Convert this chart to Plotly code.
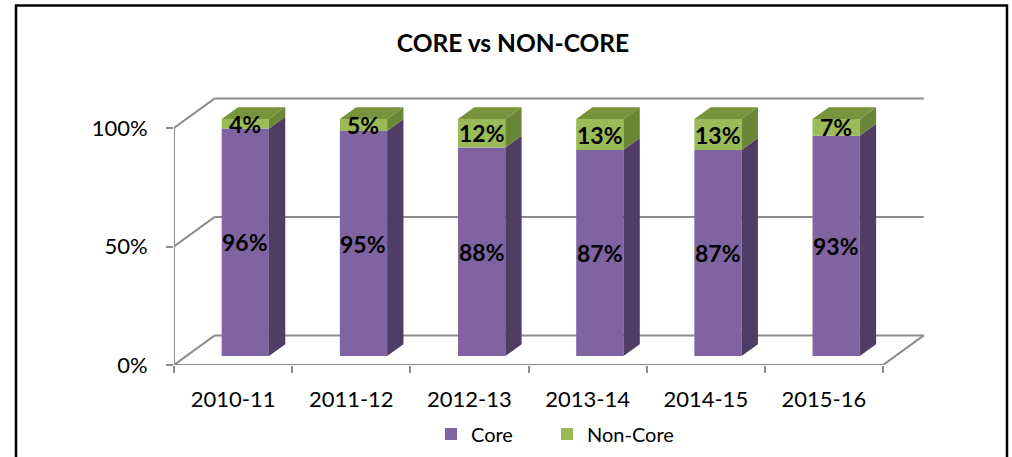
import plotly.graph_objects as go

categories = ["2010-11", "2011-12", "2012-13", "2013-14", "2014-15", "2015-16"]
core = [96, 95, 88, 87, 87, 93]
non_core = [4, 5, 12, 13, 13, 7]
y_ticks = [0, 50, 100]
y_ticktext = ["0%", "50%", "100%"]

# style / projection constants
W, H = 1012, 457
FONT = "Lato"
PURPLE, PURPLE_SIDE = "#8064A2", "#4F3D66"
GREEN, GREEN_SIDE, GREEN_TOP = "#9BBB59", "#6A8637", "#77933C"
GRID = "#8C8C8C"
DX, DY = 0.345, 12.5          # full depth offset in data units
F0, F1 = 0.30, 0.70           # bar front/back depth fractions
BW = 0.40                     # bar width (category units)

PX_X = 118.17                 # px per category
PX_Y = 2.37                   # px per percent
ML, MR, MT, MB = 174, 82, 95, 92
plot_w = W - ML - MR
plot_h = H - MT - MB
x_range = [-0.5, -0.5 + plot_w / PX_X]
y_range = [0, plot_h / PX_Y]

n = len(categories)
xc = list(range(n))
fx = [x + F0 * DX for x in xc]          # front face centers
fb = F0 * DY                            # front face base
dDx, dDy = (F1 - F0) * DX, (F1 - F0) * DY

fig = go.Figure()

# front faces as bars
core_base = [fb] * n
nc_base = [fb + c for c in core]
fig.add_trace(go.Bar(x=fx, y=core, base=core_base, width=BW, name="Core", legend="legend",
                     marker=dict(color=PURPLE, line=dict(width=0)), hoverinfo="skip"))
fig.add_trace(go.Bar(x=fx, y=non_core, base=nc_base, width=BW, name="Non-Core", legend="legend2",
                     marker=dict(color=GREEN, line=dict(width=0)), hoverinfo="skip"))


def side_poly(bases, vals):
    xs, ys = [], []
    for x, b, v in zip(fx, bases, vals):
        xr = x + BW / 2
        t = b + v
        xs += [xr, xr + dDx, xr + dDx, xr, xr, None]
        ys += [b, b + dDy, t + dDy, t, b, None]
    return xs, ys


for bases, vals, col in [(core_base, core, PURPLE_SIDE), (nc_base, non_core, GREEN_SIDE)]:
    sx, sy = side_poly(bases, vals)
    fig.add_trace(go.Scatter(x=sx, y=sy, mode="lines", fill="toself", fillcolor=col,
                             line=dict(width=0, color=col), showlegend=False, hoverinfo="skip"))

# top faces
tx, ty = [], []
for x, b, v in zip(fx, nc_base, non_core):
    xl, xr, t = x - BW / 2, x + BW / 2, b + v
    tx += [xl, xr, xr + dDx, xl + dDx, xl, None]
    ty += [t, t, t + dDy, t + dDy, t, None]
fig.add_trace(go.Scatter(x=tx, y=ty, mode="lines", fill="toself", fillcolor=GREEN_TOP,
                         line=dict(width=0, color=GREEN_TOP), showlegend=False, hoverinfo="skip"))

# walls / floor as shapes below the traces
x_left, x_right = -0.5, n - 0.5
shapes = []
line = dict(color=GRID, width=2)
for v in y_ticks:
    shapes.append(dict(type="line", xref="x", yref="y", layer="below",
                       x0=x_left, y0=v, x1=x_left + DX, y1=v + DY, line=line))
    shapes.append(dict(type="line", xref="x", yref="y", layer="below",
                       x0=x_left + DX, y0=v + DY, x1=x_right + DX, y1=v + DY, line=line))
shapes.append(dict(type="line", xref="x", yref="y", layer="below",
                   x0=x_left, y0=0, x1=x_right, y1=0, line=line))
shapes.append(dict(type="line", xref="x", yref="y", layer="below",
                   x0=x_right, y0=0, x1=x_right + DX, y1=DY, line=line))
shapes.append(dict(type="line", xref="x", yref="y", layer="below",
                   x0=x_left, y0=0, x1=x_left, y1=max(y_ticks), line=line))
# outer border (pixels -> paper)
def px2paper_x(p):
    return (p - ML) / plot_w
def px2paper_y(p):
    return (H - MB - p) / plot_h
shapes.append(dict(type="rect", xref="paper", yref="paper", layer="above",
                   x0=px2paper_x(16), x1=px2paper_x(1007), y0=px2paper_y(470), y1=px2paper_y(5.5),
                   line=dict(color="black", width=2.5), fillcolor="rgba(0,0,0,0)"))

# data labels
ann = []
for x, b, v in zip(fx, core_base, core):
    ann.append(dict(x=x, y=b + v / 2, xref="x", yref="y", text=f"{v}%", showarrow=False,
                    font=dict(family=FONT, size=23, color="black", weight="bold")))
for x, b, v in zip(fx, nc_base, non_core):
    ann.append(dict(x=x, y=b + v / 2, xref="x", yref="y", text=f"{v}%", showarrow=False,
                    font=dict(family=FONT, size=23, color="black", weight="bold")))

legend_common = dict(orientation="h", xanchor="left", yanchor="middle",
                     y=px2paper_y(434), font=dict(family=FONT, size=20),
                     bgcolor="rgba(0,0,0,0)")

fig.update_layout(
    width=W, height=H,
    margin=dict(l=ML, r=MR, t=MT, b=MB, autoexpand=False),
    paper_bgcolor="white", plot_bgcolor="white",
    barmode="overlay",
    font=dict(family=FONT, size=22, color="black"),
    title=dict(text="<b>CORE vs NON-CORE</b>", x=513 / W, xanchor="center",
               y=1 - 43 / H, yanchor="middle", yref="container",
               font=dict(family=FONT, size=24.5, color="black")),
    shapes=shapes,
    annotations=ann,
    showlegend=True,
    legend=dict(x=px2paper_x(431), **legend_common),
    legend2=dict(x=px2paper_x(547), **legend_common),
    xaxis=dict(range=x_range, tickvals=xc, ticktext=categories, ticks="",
               showgrid=False, zeroline=False, showline=False, automargin=False,
               ticklabelstandoff=19,
               minor=dict(tickmode="array", tickvals=[i - 0.5 for i in range(n + 1)],
                          ticks="outside", ticklen=7, tickwidth=2, tickcolor=GRID, showgrid=False)),
    yaxis=dict(range=y_range, tickvals=y_ticks, ticktext=y_ticktext, ticks="outside",
               ticklen=7, tickwidth=2, tickcolor=GRID, showgrid=False, zeroline=False,
               showline=False, automargin=False, ticklabelstandoff=14),
)

fig.write_html("out.html", config={"displayModeBar": False},
               post_script="document.body.style.margin='0px';document.body.style.overflow='hidden';")
